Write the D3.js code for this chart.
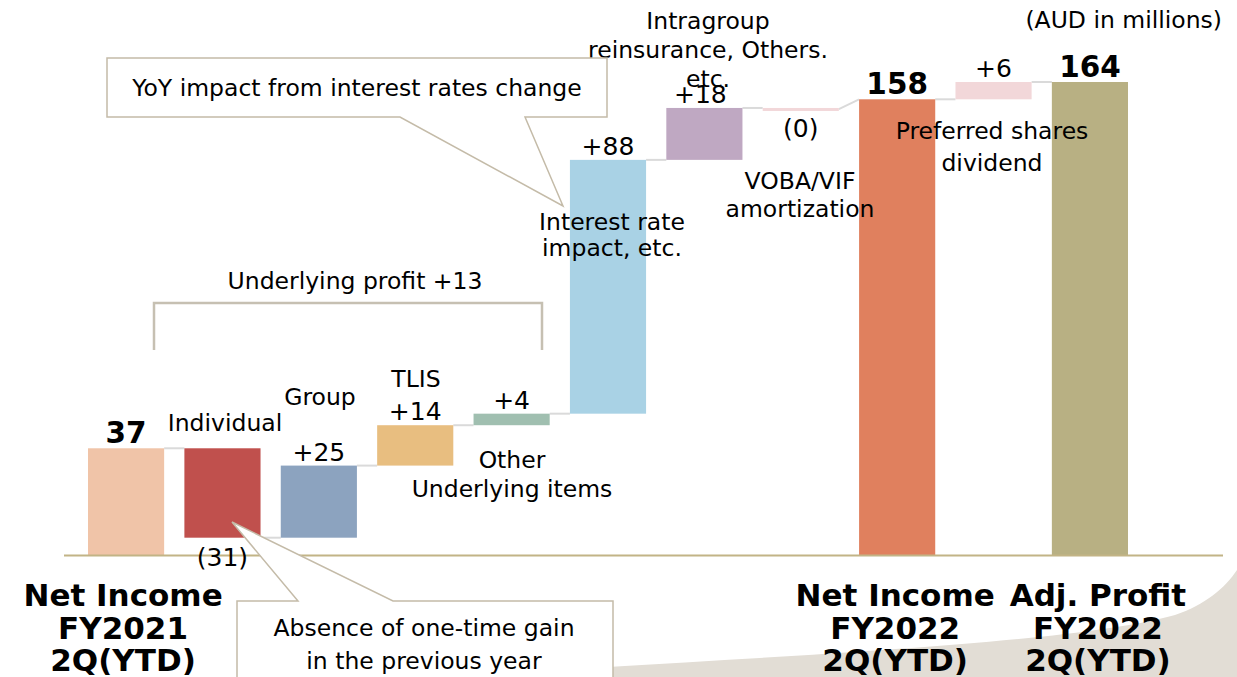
<!DOCTYPE html>
<meta charset="utf-8">
<style>
body { margin: 0; background: #fff; }
svg { display: block; }
text { font-family: "DejaVu Sans", Verdana, sans-serif; fill: #000; }
.lbl { font-size: 23.5px; }
.val { font-size: 25px; }
.tot { font-size: 29.5px; font-weight: bold; }
.cat { font-size: 31px; font-weight: bold; }
</style>
<body>
<script src="https://d3js.org/d3.v7.min.js"></script>
<script>
var width = 1237, height = 677;

// waterfall steps
var steps = ["NI FY2021", "Individual", "Group", "TLIS", "Other", "Interest", "Intragroup", "VOBA", "NI FY2022", "Preferred", "Adj FY2022"];
var values = [37, -31, 25, 14, 4, 88, 18, -0.4, 158, 6, 164];
var isTotal = [true, false, false, false, false, false, false, false, true, false, true];
var valueLabels = ["37", "(31)", "+25", "+14", "+4", "+88", "+18", "(0)", "158", "+6", "164"];
var colors = ["#F0C4A8", "#C0504D", "#8CA3BF", "#E8BE80", "#A0BFB0", "#A9D2E5", "#BFA8C2", "#F2D7D9", "#E0805E", "#F2D7D9", "#B8B083"];

// bottom category labels (only for the total bars)
var catLabels = [["Net Income", "FY2021", "2Q(YTD)"], null, null, null, null, null, null, null,
                 ["Net Income", "FY2022", "2Q(YTD)"], null, ["Adj. Profit", "FY2022", "2Q(YTD)"]];
var catShift = [-3, 0, 0, 0, 0, 0, 0, 0, -2, 0, 8];

var svg = d3.select("body").append("svg")
    .attr("width", width)
    .attr("height", height);

// beige swoosh in the lower right corner
svg.append("path")
    .attr("d", "M608,677 L608,667 C820,654 1080,642 1175,615 C1205,605 1225,588 1237,570 L1237,677 Z")
    .attr("fill", "#E2DDD5");

var x = d3.scaleBand()
    .domain(steps)
    .range([88, 1128])
    .paddingInner(0.21)
    .paddingOuter(0);

var y = d3.scaleLinear()
    .domain([0, 164])
    .range([555, 82]);

// running totals
var bars = [];
var run = 0;
steps.forEach(function(s, i) {
  var start, end;
  if (isTotal[i]) { start = 0; end = values[i]; run = values[i]; }
  else { start = run; end = run + values[i]; run = end; }
  bars.push({key: s, start: start, end: end, v: values[i], total: isTotal[i],
             label: valueLabels[i], color: colors[i], cat: catLabels[i], shift: catShift[i]});
});

// connectors
var conn = [];
for (var i = 0; i < bars.length - 1; i++) {
  var nxt = bars[i + 1];
  conn.push({x1: x(bars[i].key) + x.bandwidth(), y1: y(bars[i].end),
             x2: x(nxt.key), y2: y(nxt.total ? nxt.end : nxt.start)});
}
svg.selectAll(".conn")
  .data(conn)
  .enter().append("line")
  .attr("class", "conn")
  .attr("x1", function(d){ return d.x1; })
  .attr("y1", function(d){ return d.y1; })
  .attr("x2", function(d){ return d.x2; })
  .attr("y2", function(d){ return d.y2; })
  .attr("stroke", "#DADADA")
  .attr("stroke-width", 2);

svg.selectAll(".bar")
  .data(bars)
  .enter().append("rect")
  .attr("class", "bar")
  .attr("x", function(d){ return x(d.key); })
  .attr("width", x.bandwidth())
  .attr("y", function(d){ return y(Math.max(d.start, d.end)); })
  .attr("height", function(d){ return Math.max(3, Math.abs(y(d.start) - y(d.end))); })
  .attr("fill", function(d){ return d.color; });

// axis baseline
svg.append("line")
  .attr("x1", 64).attr("x2", 1223)
  .attr("y1", y(0) + 0.5).attr("y2", y(0) + 0.5)
  .attr("stroke", "#C2B486")
  .attr("stroke-width", 2);

// value labels
svg.selectAll(".v")
  .data(bars)
  .enter().append("text")
  .attr("class", function(d){ return d.total ? "tot" : "val"; })
  .attr("text-anchor", "middle")
  .attr("x", function(d){ return x(d.key) + x.bandwidth() / 2 + (d.key == "Intragroup" ? -4 : 0); })
  .attr("y", function(d){
    if (d.v < 0) return y(Math.min(d.start, d.end)) + 28;
    return y(Math.max(d.start, d.end)) - 5;
  })
  .text(function(d){ return d.label; });

// category labels
bars.forEach(function(d) {
  if (!d.cat) return;
  var t = svg.append("text").attr("class", "cat").attr("text-anchor", "middle");
  d.cat.forEach(function(line, j) {
    t.append("tspan")
      .attr("x", x(d.key) + x.bandwidth() / 2 + d.shift)
      .attr("y", 606 + j * 32.5)
      .text(line);
  });
});

// description labels
function lines(cx, y0, dy, arr) {
  var t = svg.append("text").attr("class", "lbl").attr("text-anchor", "middle");
  arr.forEach(function(s, j) {
    t.append("tspan").attr("x", cx).attr("y", y0 + j * dy).text(s);
  });
}
lines(225, 431, 0, ["Individual"]);
lines(320, 405, 0, ["Group"]);
lines(416, 387, 0, ["TLIS"]);
lines(512, 468, 29, ["Other", "Underlying items"]);
lines(612, 230, 26, ["Interest rate", "impact, etc."]);
lines(708, 29, 29, ["Intragroup", "reinsurance, Others.", "etc."]);
lines(800, 189, 28, ["VOBA/VIF", "amortization"]);
lines(992, 139, 32, ["Preferred shares", "dividend"]);

svg.append("text").attr("class", "lbl")
  .attr("text-anchor", "end")
  .attr("x", 1222).attr("y", 28)
  .text("(AUD in millions)");

// bracket for underlying profit
svg.append("path")
  .attr("d", "M154,350 L154,303 L542,303 L542,350")
  .attr("fill", "none")
  .attr("stroke", "#C6C0B2")
  .attr("stroke-width", 2.5);
lines(355, 289, 0, ["Underlying profit +13"]);

// callout: interest rates
svg.append("path")
  .attr("d", "M107,58 L607,58 L607,117 L525,117 L563,206 L400,117 L107,117 Z")
  .attr("fill", "#fff")
  .attr("stroke", "#C4BBA8")
  .attr("stroke-width", 1.5);
lines(357, 96, 0, ["YoY impact from interest rates change"]);

// callout: one-time gain
svg.append("path")
  .attr("d", "M237,690 L237,601 L298,601 L232,522 L393,601 L613,601 L613,690")
  .attr("fill", "#fff")
  .attr("stroke", "#C4BBA8")
  .attr("stroke-width", 1.5);
lines(424, 636, 33, ["Absence of one-time gain", "in the previous year"]);
</script>
</body>
